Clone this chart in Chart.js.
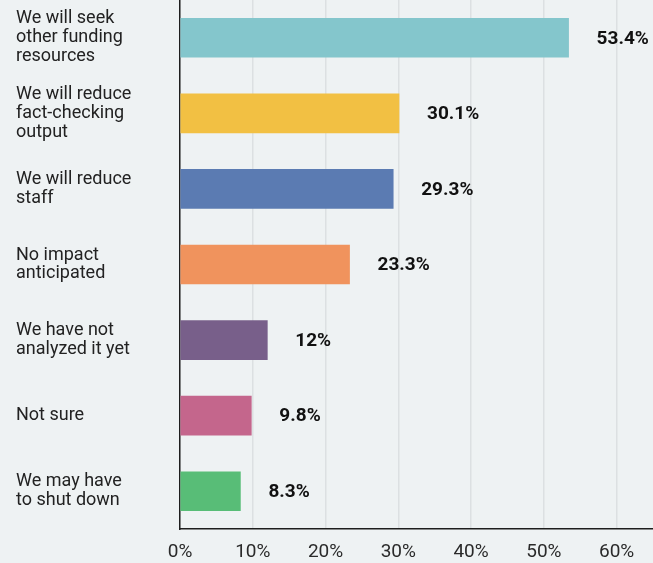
<!DOCTYPE html>
<html>
<head>
<meta charset="utf-8">
<script src="https://cdn.jsdelivr.net/npm/chart.js@4"></script>
<style>
  html, body { margin: 0; padding: 0; background: #eef2f3; }
  #wrap { width: 653px; height: 563px; }
</style>
</head>
<body>
<div id="wrap"><canvas id="chart" width="653" height="563"></canvas></div>
<script>
// Answers and their share of respondents (%)
const categories = [
  ['We will seek', 'other funding', 'resources'],
  ['We will reduce', 'fact-checking', 'output'],
  ['We will reduce', 'staff'],
  ['No impact', 'anticipated'],
  ['We have not', 'analyzed it yet'],
  ['Not sure'],
  ['We may have', 'to shut down']
];
const shares = [53.4, 30.1, 29.3, 23.3, 12, 9.8, 8.3];
const valueLabels = ['53.4%', '30.1%', '29.3%', '23.3%', '12%', '9.8%', '8.3%'];
const barColors = ['#84c6cc', '#f2c043', '#5b7bb2', '#f0935d', '#785f8a', '#c4668c', '#58bd77'];
const xTicks = [0, 10, 20, 30, 40, 50, 60];

const FONT = 'Roboto, "Noto Sans", sans-serif';

// writes the percentage to the right of each bar
const barValues = {
  id: 'barValues',
  afterDatasetsDraw(chart) {
    const ctx = chart.ctx;
    const meta = chart.getDatasetMeta(0);
    ctx.save();
    ctx.font = 'bold 19px ' + FONT;
    ctx.fillStyle = '#111';
    ctx.textAlign = 'left';
    ctx.textBaseline = 'middle';
    meta.data.forEach((bar, i) => {
      ctx.fillText(valueLabels[i], bar.x + 28, bar.y + 1);
    });
    ctx.restore();
  }
};

new Chart(document.getElementById('chart'), {
  type: 'bar',
  data: {
    labels: categories,
    datasets: [{
      data: shares,
      backgroundColor: barColors,
      barThickness: 39
    }]
  },
  options: {
    indexAxis: 'y',
    responsive: false,
    animation: false,
    layout: { padding: { left: 16, top: 0, right: 0, bottom: 0 } },
    plugins: {
      legend: { display: false },
      tooltip: { enabled: false }
    },
    scales: {
      x: {
        min: 0,
        max: 65,
        afterBuildTicks: s => { s.ticks = s.ticks.filter(t => xTicks.includes(t.value)); },
        afterFit: s => { s.height = 34; },
        grid: { color: '#dce0e2', lineWidth: 1.5, drawTicks: false },
        border: { display: true, color: '#1e1e1e', width: 1.5 },
        ticks: {
          stepSize: 10,
          padding: 12,
          color: '#2a2a2a',
          font: { family: FONT, size: 19 },
          callback: v => v + '%'
        }
      },
      y: {
        afterFit: s => { s.width = 164; s.paddingTop = 0; s.paddingBottom = 0; },
        grid: { display: false },
        border: { display: true, color: '#1e1e1e', width: 1.5 },
        ticks: {
          crossAlign: 'far',
          color: '#222',
          font: { family: FONT, size: 18, lineHeight: 1.05 }
        }
      }
    }
  },
  plugins: [barValues]
});
</script>
</body>
</html>
